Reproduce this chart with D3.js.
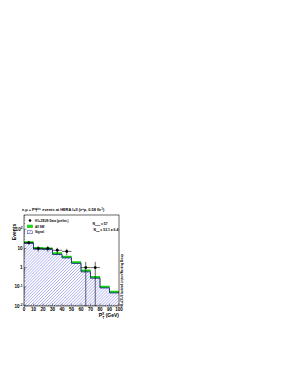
<!DOCTYPE html>
<html>
<head>
<meta charset="utf-8">
<script src="https://cdn.jsdelivr.net/npm/d3@7"></script>
<style>
  body { margin: 0; background: #fff; }
  text { font-family: "Liberation Sans", Arial, sans-serif; font-weight: bold; fill: #000; }
</style>
</head>
<body>
<svg width="291" height="377"></svg>
<script>
// bins in GeV
let binEdges = [0, 10, 20, 30, 40, 50, 60, 70, 80, 90, 100];
let smValues = [21, 10.5, 10, 5.5, 3.7, 1.9, 0.7, 0.32, 0.10, 0.055];
let smErr = [2.8, 1.4, 1.3, 0.75, 0.5, 0.26, 0.1, 0.045, 0.014, 0.008];
let signalValues = [18.3, 9.1, 8.7, 4.8, 3.2, 1.65, 0.6, 0.28, 0.087, 0.048];
let dataX = [5, 15, 25, 35, 45, 65, 75];
let dataY = [20, 10, 10, 8, 7, 1, 1];
let xTicks = [0, 10, 20, 30, 40, 50, 60, 70, 80, 90, 100];
let yTicks = [0.01, 0.1, 1, 10, 100];
let yTickLabels = [["10", "-2"], ["10", "-1"], ["1", ""], ["10", ""], ["10", "2"]];

let svg = d3.select("svg");
let fLeft = 24, fRight = 119, fTop = 215, fBottom = 306;

let x = d3.scaleLinear().domain([0, 100]).range([fLeft, fRight]);
let y = d3.scaleLog().domain([0.01, 550]).range([fBottom, fTop]).clamp(true);

let defs = svg.append("defs");
let pat = defs.append("pattern")
  .attr("id", "hatch")
  .attr("patternUnits", "userSpaceOnUse")
  .attr("width", 2.1).attr("height", 2.1)
  .attr("patternTransform", "rotate(45)");
pat.append("line")
  .attr("x1", 0).attr("y1", 0).attr("x2", 0).attr("y2", 2.1)
  .attr("stroke", "#6f6fee").attr("stroke-width", 0.8);
defs.append("clipPath").attr("id", "frame")
  .append("rect").attr("x", fLeft).attr("y", fTop)
  .attr("width", fRight - fLeft).attr("height", fBottom - fTop);

// step data: one point per left edge + closing point at 100
function steps(vals) {
  let pts = vals.map((v, i) => [binEdges[i], v]);
  pts.push([binEdges[binEdges.length - 1], vals[vals.length - 1]]);
  return pts;
}

let plot = svg.append("g").attr("clip-path", "url(#frame)");

// signal hatched
let sigArea = d3.area()
  .x(d => x(d[0])).y0(fBottom).y1(d => y(d[1]))
  .curve(d3.curveStepAfter);
plot.append("path")
  .datum(steps(signalValues))
  .attr("d", sigArea)
  .attr("fill", "url(#hatch)");

// SM band
let band = steps(smValues.map((v, i) => [v - smErr[i], v + smErr[i]]));
plot.append("path")
  .datum(band)
  .attr("d", d3.area()
    .x(d => x(d[0])).y0(d => y(d[1][0])).y1(d => y(d[1][1]))
    .curve(d3.curveStepAfter))
  .attr("fill", "#19e619");
plot.append("path")
  .datum(steps(smValues))
  .attr("d", d3.line().x(d => x(d[0])).y(d => y(d[1])).curve(d3.curveStepAfter))
  .attr("fill", "none").attr("stroke", "#0a9a0a").attr("stroke-width", 0.5);

// signal outline
plot.append("path")
  .datum(steps(signalValues))
  .attr("d", d3.line().x(d => x(d[0])).y(d => y(d[1])).curve(d3.curveStepAfter))
  .attr("fill", "none").attr("stroke", "#1c1c8a").attr("stroke-width", 0.8);

// data points
let pts = plot.append("g");
dataX.forEach((dx, i) => {
  let v = dataY[i], e = Math.sqrt(v);
  pts.append("line")
    .attr("x1", x(dx - 5)).attr("x2", x(dx + 5))
    .attr("y1", y(v)).attr("y2", y(v))
    .attr("stroke", "#000").attr("stroke-width", 0.6);
  pts.append("line")
    .attr("x1", x(dx)).attr("x2", x(dx))
    .attr("y1", y(Math.max(v - e, 0.001))).attr("y2", y(v + e))
    .attr("stroke", "#000").attr("stroke-width", 0.6);
  pts.append("circle")
    .attr("cx", x(dx)).attr("cy", y(v)).attr("r", 1.4).attr("fill", "#000");
});

// frame
svg.append("rect")
  .attr("x", fLeft).attr("y", fTop)
  .attr("width", fRight - fLeft).attr("height", fBottom - fTop)
  .attr("fill", "none").attr("stroke", "#000").attr("stroke-width", 0.6);

// x ticks
let minorX = d3.range(0, 101, 2);
svg.append("g").selectAll("line")
  .data(minorX).enter().append("line")
    .attr("x1", d => x(d)).attr("x2", d => x(d))
    .attr("y1", fBottom).attr("y2", d => fBottom - (d % 10 === 0 ? 2.5 : 1.2))
    .attr("stroke", "#000").attr("stroke-width", 0.4);
svg.append("g").selectAll("text")
  .data(xTicks).enter().append("text")
    .attr("x", d => x(d)).attr("y", fBottom + 4.5)
    .attr("text-anchor", "middle")
    .attr("font-size", 4.6)
    .text(d => d);
let xt = svg.append("text")
  .attr("x", fRight).attr("y", fBottom + 11)
  .attr("text-anchor", "end").attr("font-size", 5);
xt.append("tspan").text("P");
xt.append("tspan").attr("dy", -2).attr("font-size", 3.4).text("X");
xt.append("tspan").attr("dx", -2.2).attr("dy", 3.6).attr("font-size", 3.4).text("T");
xt.append("tspan").attr("dy", -1.6).text(" (GeV)");

// y ticks
let minorY = [];
[0.01, 0.1, 1, 10, 100].forEach(d => {
  for (let k = 1; k < 10; k++) if (d * k <= 550) minorY.push(d * k);
});
svg.append("g").selectAll("line")
  .data(minorY).enter().append("line")
    .attr("x1", fLeft).attr("x2", (d, i) => fLeft + (i % 9 === 0 ? 2.5 : 1.2))
    .attr("y1", d => y(d)).attr("y2", d => y(d))
    .attr("stroke", "#000").attr("stroke-width", 0.4);
yTicks.forEach((d, i) => {
  let t = svg.append("text")
    .attr("x", fLeft - 1.5).attr("y", y(d) + 1.6)
    .attr("text-anchor", "end").attr("font-size", 4.6);
  t.append("tspan").text(yTickLabels[i][0]);
  if (yTickLabels[i][1]) {
    t.append("tspan").attr("dy", -1.8).attr("font-size", 3.2).text(yTickLabels[i][1]);
  }
});
svg.append("text")
  .attr("transform", `translate(15.5,${fTop + 17}) rotate(-90)`)
  .attr("text-anchor", "middle").attr("font-size", 5)
  .text("Events");

// title
let title = svg.append("text")
  .attr("x", 22).attr("y", 211).attr("font-size", 3.9).attr("font-weight", "normal");
title.append("tspan").text("e,\u03bc + P");
title.append("tspan").attr("dy", -1.5).attr("font-size", 2.6).text("miss");
title.append("tspan").attr("dx", -5).attr("dy", 2.8).attr("font-size", 2.6).text("T");
title.append("tspan").attr("dx", 4).attr("dy", -1.3).text(" events at HERA I+II (e");
title.append("tspan").attr("dy", -1.5).attr("font-size", 2.6).text("+");
title.append("tspan").attr("dy", 1.5).text("p, 0.58 fb");
title.append("tspan").attr("dy", -1.5).attr("font-size", 2.6).text("-1");
title.append("tspan").attr("dy", 1.5).text(")");

// legend
let lg = svg.append("g");
lg.append("circle").attr("cx", 30).attr("cy", 220.5).attr("r", 1.3).attr("fill", "#000");
lg.append("rect").attr("x", 27.3).attr("y", 225).attr("width", 5.4).attr("height", 2.8)
  .attr("fill", "#19e619").attr("stroke", "#0a9a0a").attr("stroke-width", 0.4);
lg.append("rect").attr("x", 27.3).attr("y", 230.8).attr("width", 5.4).attr("height", 3)
  .attr("fill", "url(#hatch)").attr("stroke", "#1c1c8a").attr("stroke-width", 0.4);
let legendText = ["H1+ZEUS Data (prelim.)", "All SM", "Signal"];
lg.selectAll("text.lab").data(legendText).enter().append("text")
  .attr("class", "lab")
  .attr("x", 35).attr("y", (d, i) => 221.6 + i * 5.9)
  .attr("font-size", 3).attr("font-weight", "normal")
  .text(d => d);

let n1 = svg.append("text").attr("x", 92.5).attr("y", 225.2).attr("font-size", 3.4);
n1.append("tspan").text("N");
n1.append("tspan").attr("dy", 0.9).attr("font-size", 2.3).text("Data");
n1.append("tspan").attr("dy", -0.9).text(" = 57");
let n2 = svg.append("text").attr("x", 93.5).attr("y", 231.2).attr("font-size", 3.4);
n2.append("tspan").text("N");
n2.append("tspan").attr("dy", 0.9).attr("font-size", 2.3).text("SM");
n2.append("tspan").attr("dy", -0.9).text(" = 53.1 \u00b1 6.4");

// side label
svg.append("text")
  .attr("transform", `translate(123.2,${fBottom + 1}) rotate(-90)`)
  .attr("font-size", 2.7).attr("font-weight", "normal")
  .text("H1+ZEUS Isolated Lepton Working Group");
</script>
</body>
</html>
